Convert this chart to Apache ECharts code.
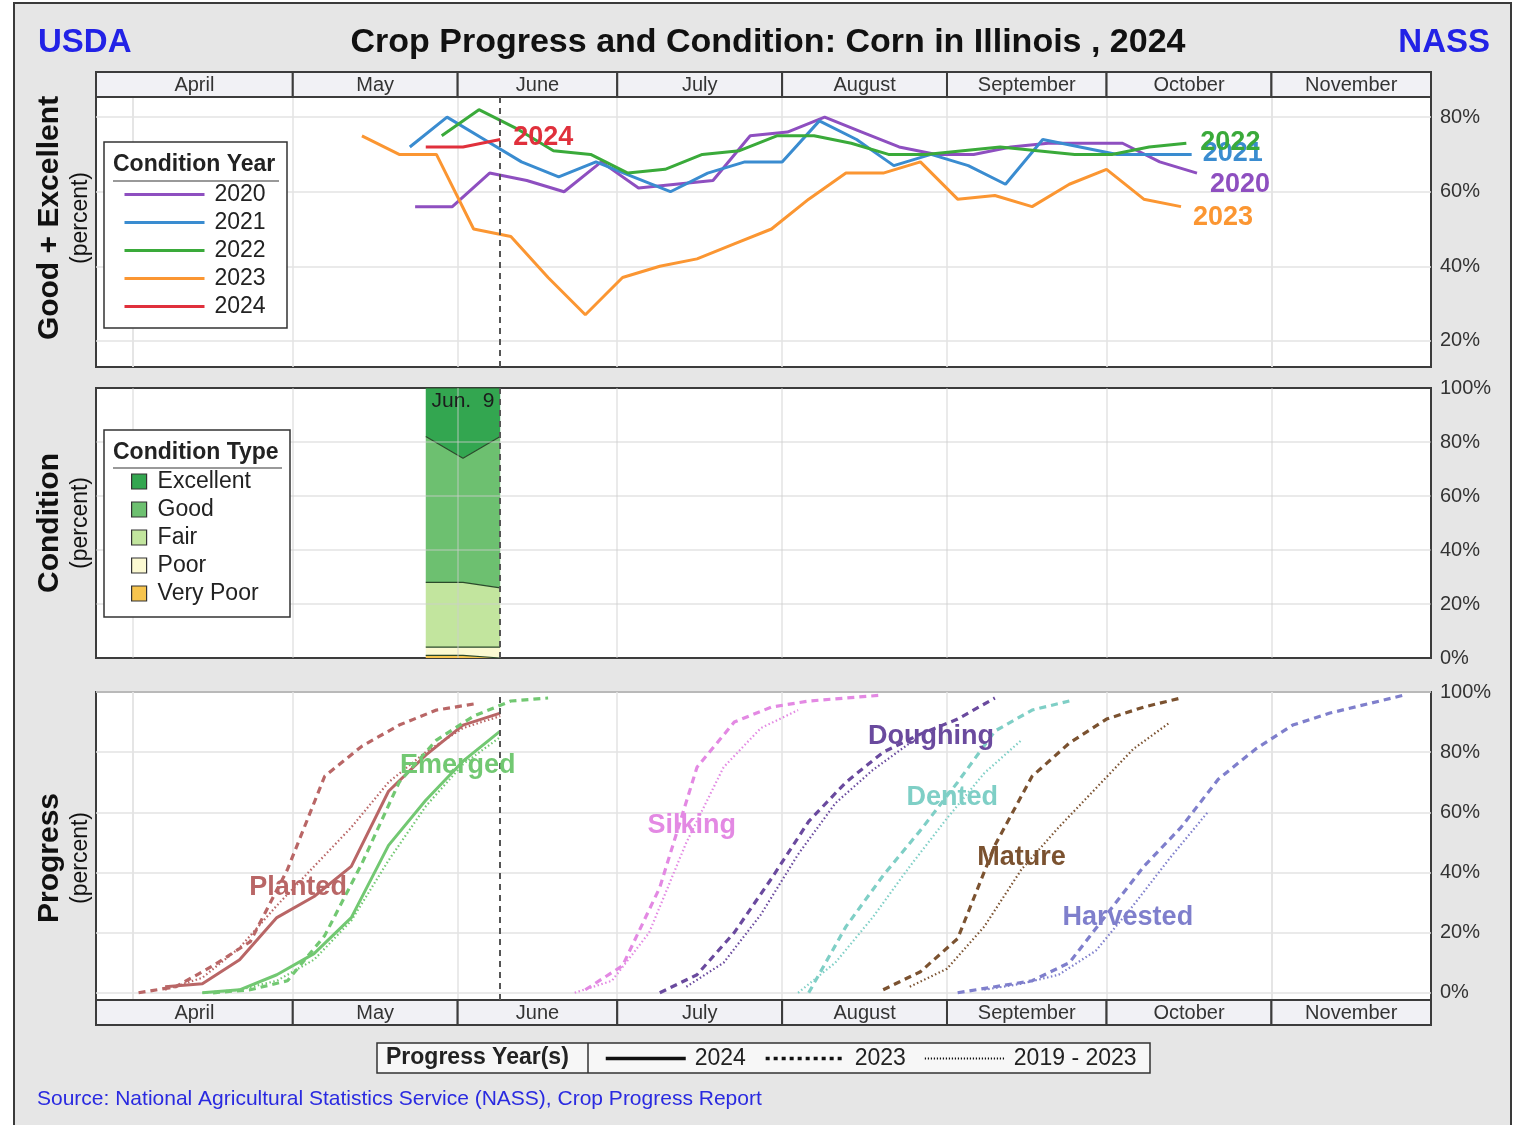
<!DOCTYPE html>
<html>
<head>
<meta charset="utf-8">
<title>Crop Progress and Condition: Corn in Illinois, 2024</title>
<script src="https://cdn.jsdelivr.net/npm/echarts@6/dist/echarts.min.js"></script>
<style>
html, body { margin: 0; padding: 0; background: #fff; }
#main { width: 1514px; height: 1125px; }
</style>
</head>
<body>
<div id="main"></div>
<script>
var FONT = '"Liberation Sans", Arial, sans-serif';

// shared time axis (everything is laid on the 2024 calendar)
var xMin = '2024-03-25';
var xMax = '2024-12-01';
var monthNames = ['April', 'May', 'June', 'July', 'August', 'September', 'October', 'November'];
var monthStarts = ['2024-04-01', '2024-05-01', '2024-06-01', '2024-07-01', '2024-08-01', '2024-09-01', '2024-10-01', '2024-11-01'];
var latestWeek = '2024-06-09';
var topTicks = [20, 40, 60, 80];
var fullTicks = [0, 20, 40, 60, 80, 100];
var condGridTicks = [20, 40, 60, 80];

// Good + Excellent (percent) by year, week ending month-day
var ge2020 = [['05-24',56],['05-31',56],['06-07',65],['06-14',63],['06-21',60],['06-28',68],['07-05',61],['07-12',62],['07-19',63],['07-26',75],['08-02',76],['08-09',80],['08-16',76],['08-23',72],['08-30',70],['09-06',70],['09-13',72],['09-20',73],['09-27',73],['10-04',73],['10-11',68],['10-18',65]];
var ge2021 = [['05-23',72],['05-30',80],['06-06',74],['06-13',68],['06-20',64],['06-27',68],['07-04',64],['07-11',60],['07-18',65],['07-25',68],['08-01',68],['08-08',79],['08-15',74],['08-22',67],['08-29',70],['09-05',67],['09-12',62],['09-19',74],['09-26',72],['10-03',70],['10-10',70],['10-17',70]];
var ge2022 = [['05-29',75],['06-05',82],['06-12',77],['06-19',71],['06-26',70],['07-03',65],['07-10',66],['07-17',70],['07-24',71],['07-31',75],['08-07',75],['08-14',73],['08-21',70],['08-28',70],['09-04',71],['09-11',72],['09-18',71],['09-25',70],['10-02',70],['10-09',72],['10-16',73]];
var ge2023 = [['05-14',75],['05-21',70],['05-28',70],['06-04',50],['06-11',48],['06-18',37],['06-25',27],['07-02',37],['07-09',40],['07-16',42],['07-23',46],['07-30',50],['08-06',58],['08-13',65],['08-20',65],['08-27',68],['09-03',58],['09-10',59],['09-17',56],['09-24',62],['10-01',66],['10-08',58],['10-15',56]];
var ge2024 = [['05-26',72],['06-02',72],['06-09',74]];

// condition 2024 (percent)
var condDates = ['05-26', '06-02', '06-09'];
var condVeryPoor = [1, 1, 0];
var condPoor = [3, 3, 4];
var condFair = [24, 24, 22];
var condGood = [54, 46, 56];
var condExcellent = [18, 26, 18];

// progress (percent)
var planted2024 = [['04-07',2],['04-14',3],['04-21',11],['04-28',25],['05-05',32],['05-12',42],['05-19',67],['05-26',79],['06-02',89],['06-09',93]];
var planted2023 = [['04-02',0],['04-09',2],['04-16',9],['04-23',17],['04-30',41],['05-07',72],['05-14',82],['05-21',89],['05-28',94],['06-04',96]];
var plantedAvg = [['04-07',1],['04-14',5],['04-21',15],['04-28',29],['05-05',42],['05-12',55],['05-19',70],['05-26',80],['06-02',88],['06-09',92]];
var emerged2024 = [['04-14',0],['04-21',1],['04-28',6],['05-05',13],['05-12',25],['05-19',49],['05-26',64],['06-02',77],['06-09',87]];
var emerged2023 = [['04-16',0],['04-23',1],['04-30',4],['05-07',19],['05-14',43],['05-21',70],['05-28',84],['06-04',92],['06-11',97],['06-18',98]];
var emergedAvg = [['04-14',0],['04-21',1],['04-28',4],['05-05',11],['05-12',24],['05-19',44],['05-26',62],['06-02',76],['06-09',85]];
var silking2023 = [['06-25',1],['07-02',9],['07-09',35],['07-16',75],['07-23',90],['07-30',95],['08-06',97],['08-13',98],['08-20',99]];
var silkingAvg = [['06-23',0],['06-30',4],['07-07',20],['07-14',50],['07-21',75],['07-28',88],['08-04',94]];
var doughing2023 = [['07-09',0],['07-16',6],['07-23',20],['07-30',38],['08-06',57],['08-13',70],['08-20',80],['08-27',86],['09-03',91],['09-10',98]];
var doughingAvg = [['07-14',2],['07-21',10],['07-28',26],['08-04',46],['08-11',63],['08-18',74],['08-25',83]];
var dented2023 = [['08-06',0],['08-13',22],['08-20',39],['08-27',54],['09-03',70],['09-10',87],['09-17',94],['09-24',97]];
var dentedAvg = [['08-04',0],['08-11',10],['08-18',25],['08-25',42],['09-01',58],['09-08',73],['09-15',84]];
var mature2023 = [['08-20',1],['08-27',7],['09-03',18],['09-10',49],['09-17',72],['09-24',83],['10-01',91],['10-08',95],['10-15',98]];
var matureAvg = [['08-25',2],['09-01',8],['09-08',22],['09-15',41],['09-22',55],['09-29',68],['10-06',81],['10-13',90]];
var harvested2023 = [['09-03',0],['09-10',2],['09-17',4],['09-24',10],['10-01',26],['10-08',42],['10-15',55],['10-22',71],['10-29',81],['11-05',89],['11-12',93],['11-19',96],['11-26',99]];
var harvestedAvg = [['09-08',1],['09-15',3],['09-22',6],['09-29',14],['10-06',29],['10-13',45],['10-20',60]];

function onYear(pts) {
  return pts.map(function (p) { return ['2024-' + p[0], p[1]]; });
}

var dom = document.getElementById('main');
var myChart = echarts.init(dom);

var gridLine = { show: true, lineStyle: { color: '#e3e3e3', width: 1.5 } };
var dashStyle = { color: '#555', type: [6, 5], width: 2 };

function xAxisFor(i, split) {
  return {
    type: 'time', gridIndex: i, min: xMin, max: xMax,
    axisLine: { show: false },
    axisTick: { show: false, customValues: monthStarts },
    axisLabel: { show: false },
    splitLine: split ? split : { show: false }
  };
}
function yAxisFor(i, min, max, ticks, split) {
  return {
    type: 'value', gridIndex: i, min: min, max: max, position: 'right',
    axisLine: { show: false },
    axisTick: { show: false, customValues: ticks },
    axisLabel: ticks ? { show: true, customValues: ticks, formatter: '{value}%', margin: 9, fontSize: 20, color: '#333', fontFamily: FONT } : { show: false },
    splitLine: split ? split : { show: false }
  };
}

var vline = {
  silent: true, symbol: 'none', label: { show: false },
  lineStyle: dashStyle,
  data: [{ xAxis: latestWeek }]
};

// condition panel: grid lines sit over the coloured areas, so draw them as marks on top
var condLines = {
  silent: true, symbol: 'none', label: { show: false },
  lineStyle: { color: 'rgba(205,205,205,0.55)', width: 1.5, type: 'solid' },
  data: condGridTicks.map(function (v) { return { yAxis: v }; })
    .concat(monthStarts.map(function (d) { return { xAxis: d }; }))
    .concat([{ xAxis: latestWeek, lineStyle: dashStyle }])
};

function bandSeries(idx) {
  return {
    type: 'custom', xAxisIndex: idx, yAxisIndex: idx, silent: true, clip: false,
    data: monthNames.map(function (m, i) {
      return [i === 0 ? xMin : monthStarts[i], i < monthStarts.length - 1 ? monthStarts[i + 1] : xMax];
    }),
    encode: { x: [0, 1] },
    renderItem: function (params, api) {
      var cs = params.coordSys;
      var a = Math.max(api.coord([api.value(0), 0])[0], cs.x);
      var b = Math.min(api.coord([api.value(1), 0])[0], cs.x + cs.width);
      return {
        type: 'group',
        children: [
          { type: 'rect', shape: { x: a, y: cs.y, width: b - a, height: cs.height },
            style: { fill: '#f1f1f5', stroke: '#3c3c3c', lineWidth: 2 } },
          { type: 'text', x: (a + b) / 2, y: cs.y + cs.height / 2 + 1,
            style: { text: monthNames[params.dataIndex], fill: '#333', font: '20px ' + FONT, align: 'center', verticalAlign: 'middle' } }
        ]
      };
    }
  };
}

var yearColors = { '2020': '#8e4fc0', '2021': '#3a8cd0', '2022': '#3aaa3a', '2023': '#fb9632', '2024': '#e0303c' };
function geLine(name, pts, off) {
  var c = yearColors[name];
  return {
    name: name, type: 'line', xAxisIndex: 1, yAxisIndex: 1, data: onYear(pts),
    symbol: 'none', color: c, lineStyle: { width: 3, color: c },
    endLabel: { show: true, formatter: name, offset: off, color: c, fontSize: 27, fontWeight: 'bold', fontFamily: FONT }
  };
}

function condArea(name, vals, fill) {
  return {
    name: name, type: 'line', xAxisIndex: 2, yAxisIndex: 2, stack: 'cond',
    data: condDates.map(function (d, i) { return ['2024-' + d, vals[i]]; }),
    symbol: 'none', color: fill,
    lineStyle: { color: '#2b4a2b', width: 1.2 },
    areaStyle: { color: fill, opacity: 1 }
  };
}

function prog(name, pts, color, kind) {
  var ls = { color: color, width: 3, type: 'solid' };
  if (kind === 'dash') ls = { color: color, width: 3.2, type: [7, 5] };
  if (kind === 'dot') ls = { color: color, width: 2.2, type: [1.5, 2.5] };
  return {
    name: name, type: 'line', xAxisIndex: 3, yAxisIndex: 3, data: onYear(pts),
    symbol: 'none', color: color, lineStyle: ls
  };
}
function stageLabel(text, date, val, color) {
  return {
    silent: true, symbol: 'rect', symbolSize: 1, itemStyle: { color: 'rgba(0,0,0,0)' },
    label: { show: true, position: 'inside', formatter: text, color: color, fontSize: 27, fontWeight: 'bold', fontFamily: FONT },
    data: [{ coord: ['2024-' + date, val] }]
  };
}

var stages = [
  ['Planted', '#b96666', planted2024, planted2023, plantedAvg, ['05-02', 35]],
  ['Emerged', '#72c872', emerged2024, emerged2023, emergedAvg, ['06-01', 75.6]],
  ['Silking', '#e389e3', null, silking2023, silkingAvg, ['07-15', 55.6]],
  ['Doughing', '#6a4a9e', null, doughing2023, doughingAvg, ['08-29', 85.2]],
  ['Dented', '#7fcfc6', null, dented2023, dentedAvg, ['09-02', 64.9]],
  ['Mature', '#7b5230', null, mature2023, matureAvg, ['09-15', 44.9]],
  ['Harvested', '#7f7fcc', null, harvested2023, harvestedAvg, ['10-05', 24.9]]
];

var series = [bandSeries(0), bandSeries(4)];

series.push(geLine('2020', ge2020, [5, 11]));
series.push(geLine('2021', ge2021, [3, -1]));
series.push(geLine('2022', ge2022, [6, -1]));
series.push(geLine('2023', ge2023, [4, 11]));
var s2024 = geLine('2024', ge2024, [5, -2]);
s2024.markLine = vline;
series.push(s2024);

var condColors = { 'Excellent': '#33a650', 'Good': '#6dc070', 'Fair': '#c2e59e', 'Poor': '#fbf9d2', 'Very Poor': '#f6c44e' };
series.push(condArea('Very Poor', condVeryPoor, condColors['Very Poor']));
series.push(condArea('Poor', condPoor, condColors['Poor']));
series.push(condArea('Fair', condFair, condColors['Fair']));
series.push(condArea('Good', condGood, condColors['Good']));
var exc = condArea('Excellent', condExcellent, condColors['Excellent']);
exc.markLine = condLines;
exc.markPoint = {
  silent: true, symbol: 'rect', symbolSize: 1, itemStyle: { color: 'rgba(0,0,0,0)' },
  label: { show: true, position: 'inside', offset: [0, 13], formatter: 'Jun.  9', color: '#1c1c1c', fontSize: 21, fontFamily: FONT },
  data: [{ coord: ['2024-06-02', 100] }]
};
series.push(exc);

stages.forEach(function (st, k) {
  if (st[4]) series.push(prog(st[0] + ' avg', st[4], st[1], 'dot'));
  var s23 = prog(st[0] + ' 2023', st[3], st[1], 'dash');
  s23.markPoint = stageLabel(st[0], st[5][0], st[5][1], st[1]);
  series.push(s23);
  if (st[2]) {
    var s24 = prog(st[0] + ' 2024', st[2], st[1], 'solid');
    if (k === 0) s24.markLine = vline;
    series.push(s24);
  }
});

// line samples for the progress-year key
series.push({ name: 'p2024', type: 'line', xAxisIndex: 3, yAxisIndex: 3, data: [], symbol: 'none', color: '#111', lineStyle: { color: '#111', width: 3.5, type: 'solid' } });
series.push({ name: 'p2023', type: 'line', xAxisIndex: 3, yAxisIndex: 3, data: [], symbol: 'none', color: '#111', lineStyle: { color: '#111', width: 3.5, type: [4, 4] } });
series.push({ name: 'p5yr', type: 'line', xAxisIndex: 3, yAxisIndex: 3, data: [], symbol: 'none', color: '#111', lineStyle: { color: '#111', width: 2, type: [1.2, 1.8] } });

var keyNames = { p2024: '2024', p2023: '2023', p5yr: '2019 - 2023' };

function boxText(x, y, text, font, color, align, rot) {
  return {
    type: 'text', x: x, y: y, rotation: rot || 0, z: 12,
    style: { text: text, font: font, fill: color || '#111', align: align || 'left', verticalAlign: 'middle' }
  };
}

var graphics = [
  { type: 'rect', z: -10, shape: { x: 14, y: 3, width: 1497, height: 1130 }, style: { fill: '#e6e6e6', stroke: '#3a3a3a', lineWidth: 2 } },
  boxText(38, 43, 'USDA', 'bold 33px ' + FONT, '#2222e6'),
  boxText(768, 43, 'Crop Progress and Condition: Corn in Illinois , 2024', 'bold 34px ' + FONT, '#111', 'center'),
  boxText(1490, 43, 'NASS', 'bold 33px ' + FONT, '#2222e6', 'right'),
  boxText(50, 218, 'Good + Excellent', 'bold 30px ' + FONT, '#111', 'center', Math.PI / 2),
  boxText(81, 218, '(percent)', '23px ' + FONT, '#111', 'center', Math.PI / 2),
  boxText(50, 523, 'Condition', 'bold 30px ' + FONT, '#111', 'center', Math.PI / 2),
  boxText(81, 523, '(percent)', '23px ' + FONT, '#111', 'center', Math.PI / 2),
  boxText(50, 858, 'Progress', 'bold 30px ' + FONT, '#111', 'center', Math.PI / 2),
  boxText(81, 858, '(percent)', '23px ' + FONT, '#111', 'center', Math.PI / 2),
  // condition year key
  { type: 'rect', z: 10, shape: { x: 104, y: 142, width: 183, height: 186 }, style: { fill: '#fff', stroke: '#333', lineWidth: 1.5 } },
  boxText(113, 165, 'Condition Year', 'bold 23px ' + FONT, '#222'),
  { type: 'line', z: 12, shape: { x1: 113, y1: 181, x2: 279, y2: 181 }, style: { stroke: '#999', lineWidth: 2 } },
  // condition type key
  { type: 'rect', z: 10, shape: { x: 104, y: 430, width: 186, height: 187 }, style: { fill: '#fff', stroke: '#333', lineWidth: 1.5 } },
  boxText(113, 453, 'Condition Type', 'bold 23px ' + FONT, '#222'),
  { type: 'line', z: 12, shape: { x1: 113, y1: 468, x2: 282, y2: 468 }, style: { stroke: '#999', lineWidth: 2 } },
  // progress year key
  { type: 'rect', z: 10, shape: { x: 377, y: 1043, width: 773, height: 30 }, style: { fill: '#f7f7f7', stroke: '#333', lineWidth: 1.5 } },
  { type: 'line', z: 12, shape: { x1: 588, y1: 1043, x2: 588, y2: 1073 }, style: { stroke: '#333', lineWidth: 1.5 } },
  boxText(386, 1058, 'Progress Year(s)', 'bold 23px ' + FONT, '#222'),
  boxText(37, 1099, 'Source: National Agricultural Statistics Service (NASS), Crop Progress Report', '21px ' + FONT, '#2a2ae0')
];

option = {
  animation: false,
  backgroundColor: '#fff',
  textStyle: { fontFamily: FONT },
  grid: [
    { left: 96, right: 83, top: 72, height: 25, outerBoundsMode: 'none', containLabel: false },
    { left: 96, right: 83, top: 97, height: 270, show: true, backgroundColor: '#fff', borderColor: '#3c3c3c', borderWidth: 2, outerBoundsMode: 'none', containLabel: false },
    { left: 96, right: 83, top: 388, height: 270, show: true, backgroundColor: '#fff', borderColor: '#3c3c3c', borderWidth: 2, outerBoundsMode: 'none', containLabel: false },
    { left: 96, right: 83, top: 692, height: 308, show: true, backgroundColor: '#fff', borderColor: '#3c3c3c', borderWidth: 2, outerBoundsMode: 'none', containLabel: false },
    { left: 96, right: 83, top: 1000, height: 25, outerBoundsMode: 'none', containLabel: false }
  ],
  xAxis: [
    xAxisFor(0, null),
    xAxisFor(1, gridLine),
    xAxisFor(2, null),
    xAxisFor(3, gridLine),
    xAxisFor(4, null)
  ],
  yAxis: [
    yAxisFor(0, 0, 1, null, null),
    yAxisFor(1, 13, 85.4, topTicks, gridLine),
    yAxisFor(2, 0, 100, fullTicks, null),
    yAxisFor(3, -2.4, 100, fullTicks, gridLine),
    yAxisFor(4, 0, 1, null, null)
  ],
  legend: [
    {
      data: ['2020', '2021', '2022', '2023', '2024'], orient: 'vertical', left: 123, top: 183,
      itemWidth: 80, itemHeight: 14, itemGap: 5, padding: 0, z: 20, selectedMode: false,
      itemStyle: { opacity: 0 }, lineStyle: { width: 3 },
      textStyle: { fontSize: 23, color: '#222', fontFamily: FONT, padding: [0, 0, 0, 5] }
    },
    {
      data: ['Excellent', 'Good', 'Fair', 'Poor', 'Very Poor'].map(function (n) { return { name: n, icon: 'rect' }; }),
      orient: 'vertical', left: 131, top: 470, itemWidth: 15, itemHeight: 15, itemGap: 5, padding: 0, z: 20, selectedMode: false,
      itemStyle: { borderColor: '#333', borderWidth: 1.2 },
      textStyle: { fontSize: 23, color: '#222', fontFamily: FONT, padding: [0, 0, 0, 6] }
    },
    {
      data: [
        { name: 'p2024', lineStyle: { width: 3.5 } },
        { name: 'p2023', lineStyle: { width: 3.5 } },
        { name: 'p5yr', lineStyle: { width: 2 } }
      ],
      orient: 'horizontal', left: 604, top: 1047,
      itemWidth: 80, itemHeight: 14, itemGap: 18, padding: 0, z: 20, selectedMode: false,
      itemStyle: { opacity: 0 },
      formatter: function (n) { return keyNames[n]; },
      textStyle: { fontSize: 23, color: '#222', fontFamily: FONT, padding: [0, 0, 0, 4] }
    }
  ],
  graphic: graphics,
  series: series
};

myChart.setOption(option, false);
</script>
</body>
</html>
